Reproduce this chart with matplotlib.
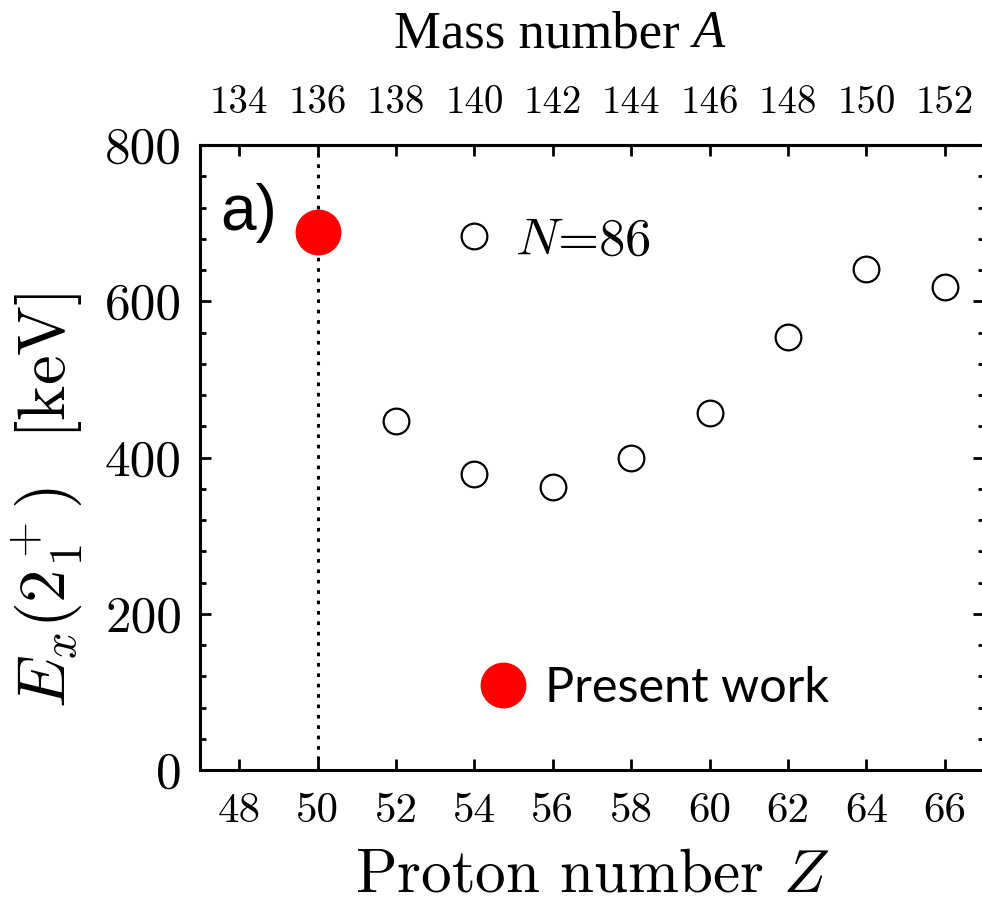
import matplotlib
matplotlib.use("Agg")
import matplotlib.pyplot as plt
from matplotlib.lines import Line2D

plt.rcParams['mathtext.fontset'] = 'cm'
plt.rcParams['font.family'] = 'cmr10'
plt.rcParams['axes.formatter.use_mathtext'] = True

# data
z_known = [52, 54, 56, 58, 60, 62, 64, 66]
e_known = [447, 379, 362, 400, 457, 554, 641, 618]
z_present = [50]
e_present = [689]
N = 86
z_ticks = [48, 50, 52, 54, 56, 58, 60, 62, 64, 66]
a_ticks = [134, 136, 138, 140, 142, 144, 146, 148, 150, 152]
e_ticks = [0, 200, 400, 600, 800]

fig = plt.figure(figsize=(9.82, 9.06), dpi=100)
ax = fig.add_axes([200/982, 136/906, 784/982, 625/906])

ax.axvline(50, color='k', ls=(0, (1.2, 2.2)), lw=2.2)
ax.plot(z_known, e_known, 'o', ms=18.5, mfc='none', mec='k', mew=1.6)
ax.plot(z_present, e_present, 'o', ms=32, mfc='red', mec='red', zorder=5)

ax.set_xlim(47, 67)
ax.set_ylim(0, 800)
ax.set_xticks(z_ticks)
ax.set_xticklabels([str(t) for t in z_ticks], fontsize=31)
ax.set_yticks(e_ticks)
ax.set_yticklabels([str(t) for t in e_ticks], fontsize=37)
ax.set_yticks(range(0, 801, 40), minor=True)
ax.tick_params(which='both', direction='in', width=2, right=True)
ax.tick_params(which='major', length=8)
ax.tick_params(which='minor', length=4)
ax.tick_params(axis='x', pad=16)
ax.tick_params(axis='y', pad=13)
for s in ax.spines.values():
    s.set_linewidth(2.2)

sec = ax.secondary_xaxis('top', functions=(lambda z: z + N, lambda a: a - N))
sec.set_xticks(a_ticks)
sec.set_xticklabels([str(t) for t in a_ticks], fontsize=28)
sec.tick_params(direction='in', length=8, width=2, pad=17)
sec.spines['top'].set_linewidth(2.2)

ax.set_xlabel('Proton number $Z$', fontsize=44)
ax.xaxis.set_label_coords(0.5, -0.125)
ax.set_ylabel(r'$E_x(2^+_1)$  [keV]', fontsize=48)
ax.yaxis.set_label_coords(-0.147, 0.432)
fig.text(0.706, 0.962, 'Mass number ', family='Liberation Serif', fontsize=38,
         ha='right', va='center')
fig.text(0.706, 0.962, 'A', family='Liberation Serif', style='italic',
         fontsize=38, ha='left', va='center')

ax.text(0.026, 0.891, 'a)', transform=ax.transAxes, family='Liberation Sans',
        fontsize=46, va='center')

h1 = Line2D([], [], ls='none', marker='o', ms=18.5, mfc='none', mec='k', mew=1.6)
leg1 = ax.legend([h1], ['$N$=86'], loc='center left', bbox_to_anchor=(0.316, 0.846),
                 frameon=False, fontsize=38, handlelength=1, handletextpad=0.27,
                 borderpad=0, borderaxespad=0)
ax.add_artist(leg1)
h2 = Line2D([], [], ls='none', marker='o', ms=32, mfc='red', mec='red')
ax.legend([h2], ['Present work'], loc='center left', bbox_to_anchor=(0.356, 0.131),
          frameon=False, prop={'family': 'Lato', 'size': 35}, handlelength=1,
          handletextpad=0.36, borderpad=0, borderaxespad=0)

fig.savefig('out.png', dpi=100)
